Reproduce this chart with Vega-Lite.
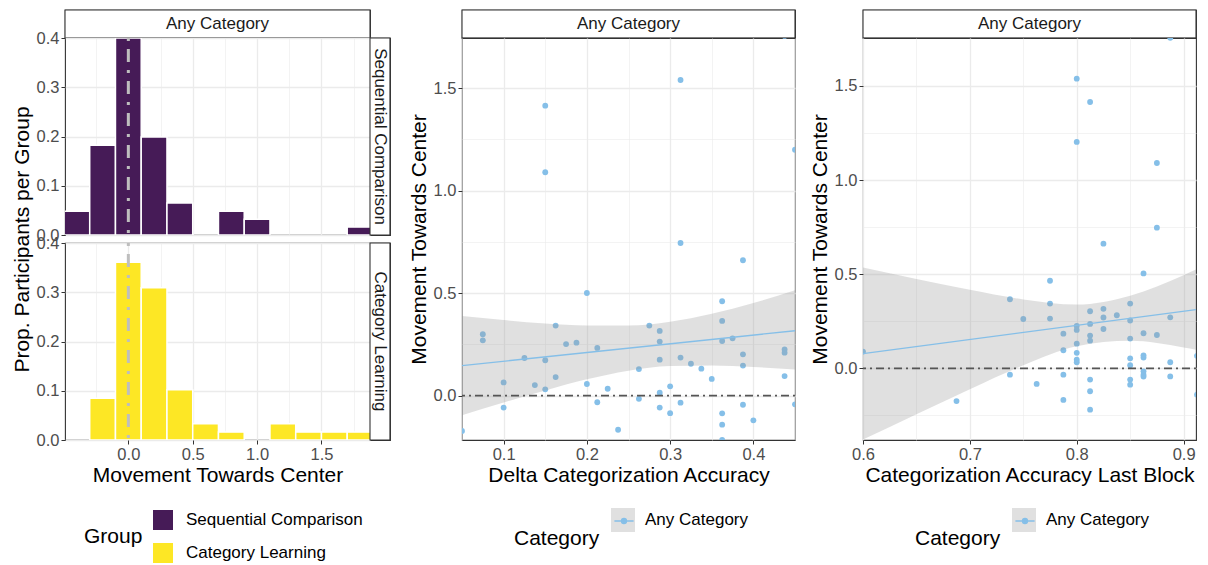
{
  "$schema": "https://vega.github.io/schema/vega-lite/v6.json",
  "padding": {"left": 10, "top": 8, "right": 5, "bottom": 5},
  "background": "white",
  "config": {
    "font": "Liberation Sans",
    "view": {"stroke": "#333333", "strokeWidth": 1.1, "fill": "white"},
    "axis": {
      "labelFont": "Liberation Sans", "labelFontSize": 16.5, "labelColor": "#4D4D4D",
      "titleFont": "Liberation Sans", "titleFontSize": 21, "titleColor": "#000000", "titleFontWeight": "normal",
      "domain": false, "tickColor": "#333333", "tickSize": 4, "tickWidth": 1,
      "labelPadding": 2, "titlePadding": 4, "labelFlush": false, "labelOverlap": false, "labelBound": false,
      "gridColor": "#EBEBEB"
    },
    "axisX": {"titlePadding": 2},
    "legend": {
      "labelFont": "Liberation Sans", "labelFontSize": 17, "labelColor": "#000000", "labelLimit": 0,
      "titleFont": "Liberation Sans", "titleFontSize": 21, "titleColor": "#000000", "titleFontWeight": "normal"
    }
  },
  "datasets": {
    "hist": [
      {"group": "Sequential Comparison", "x0": -0.5, "x1": -0.3, "prop": 0.048},
      {"group": "Sequential Comparison", "x0": -0.3, "x1": -0.1, "prop": 0.182},
      {"group": "Sequential Comparison", "x0": -0.1, "x1": 0.1, "prop": 0.4},
      {"group": "Sequential Comparison", "x0": 0.1, "x1": 0.3, "prop": 0.199},
      {"group": "Sequential Comparison", "x0": 0.3, "x1": 0.5, "prop": 0.065},
      {"group": "Sequential Comparison", "x0": 0.7, "x1": 0.9, "prop": 0.048},
      {"group": "Sequential Comparison", "x0": 0.9, "x1": 1.1, "prop": 0.032},
      {"group": "Sequential Comparison", "x0": 1.7, "x1": 1.9, "prop": 0.016},
      {"group": "Category Learning", "x0": -0.3, "x1": -0.1, "prop": 0.085},
      {"group": "Category Learning", "x0": -0.1, "x1": 0.1, "prop": 0.361},
      {"group": "Category Learning", "x0": 0.1, "x1": 0.3, "prop": 0.309},
      {"group": "Category Learning", "x0": 0.3, "x1": 0.5, "prop": 0.102},
      {"group": "Category Learning", "x0": 0.5, "x1": 0.7, "prop": 0.033},
      {"group": "Category Learning", "x0": 0.7, "x1": 0.9, "prop": 0.016},
      {"group": "Category Learning", "x0": 1.1, "x1": 1.3, "prop": 0.033},
      {"group": "Category Learning", "x0": 1.3, "x1": 1.5, "prop": 0.016},
      {"group": "Category Learning", "x0": 1.5, "x1": 1.7, "prop": 0.016},
      {"group": "Category Learning", "x0": 1.7, "x1": 1.9, "prop": 0.016}
    ],
    "mid": [
      {"x": 0.15, "y": 1.415}, {"x": 0.15, "y": 1.09}, {"x": 0.3125, "y": 1.54}, {"x": 0.4375, "y": 1.755},
      {"x": 0.45, "y": 1.2}, {"x": 0.3125, "y": 0.745}, {"x": 0.3875, "y": 0.661}, {"x": 0.2, "y": 0.501},
      {"x": 0.3625, "y": 0.461}, {"x": 0.3625, "y": 0.365}, {"x": 0.3625, "y": 0.267}, {"x": 0.375, "y": 0.28},
      {"x": 0.075, "y": 0.3}, {"x": 0.075, "y": 0.27}, {"x": 0.1625, "y": 0.342}, {"x": 0.175, "y": 0.252},
      {"x": 0.1875, "y": 0.259}, {"x": 0.2125, "y": 0.233}, {"x": 0.275, "y": 0.342}, {"x": 0.2875, "y": 0.316},
      {"x": 0.2875, "y": 0.264}, {"x": 0.2875, "y": 0.176}, {"x": 0.125, "y": 0.184}, {"x": 0.15, "y": 0.173},
      {"x": 0.1625, "y": 0.091}, {"x": 0.1, "y": 0.065}, {"x": 0.1375, "y": 0.052}, {"x": 0.15, "y": 0.031},
      {"x": 0.2, "y": 0.057}, {"x": 0.225, "y": 0.034}, {"x": 0.3125, "y": 0.186}, {"x": 0.325, "y": 0.156},
      {"x": 0.3375, "y": 0.132}, {"x": 0.35, "y": 0.082}, {"x": 0.2625, "y": 0.13}, {"x": 0.3, "y": 0.046},
      {"x": 0.2875, "y": 0.015}, {"x": 0.3875, "y": 0.202}, {"x": 0.3875, "y": 0.147}, {"x": 0.4375, "y": 0.226},
      {"x": 0.4375, "y": 0.21}, {"x": 0.4375, "y": 0.096}, {"x": 0.1, "y": -0.058}, {"x": 0.2125, "y": -0.032},
      {"x": 0.2625, "y": -0.015}, {"x": 0.2875, "y": -0.058}, {"x": 0.3, "y": -0.085}, {"x": 0.3125, "y": -0.034},
      {"x": 0.3875, "y": -0.044}, {"x": 0.4, "y": -0.12}, {"x": 0.3625, "y": -0.086}, {"x": 0.3625, "y": -0.141},
      {"x": 0.3625, "y": -0.216}, {"x": 0.2375, "y": -0.166}, {"x": 0.05, "y": -0.172}, {"x": 0.45, "y": -0.042}
    ],
    "right": [
      {"x": 0.8, "y": 1.539}, {"x": 0.8125, "y": 1.415}, {"x": 0.8, "y": 1.203}, {"x": 0.875, "y": 1.091},
      {"x": 0.8875, "y": 1.756}, {"x": 0.875, "y": 0.747}, {"x": 0.825, "y": 0.662}, {"x": 0.8625, "y": 0.504},
      {"x": 0.775, "y": 0.465}, {"x": 0.7375, "y": 0.367}, {"x": 0.775, "y": 0.344}, {"x": 0.775, "y": 0.264},
      {"x": 0.75, "y": 0.262}, {"x": 0.85, "y": 0.344}, {"x": 0.85, "y": 0.254}, {"x": 0.85, "y": 0.158},
      {"x": 0.8125, "y": 0.303}, {"x": 0.8125, "y": 0.236}, {"x": 0.8125, "y": 0.174}, {"x": 0.8125, "y": 0.147},
      {"x": 0.825, "y": 0.316}, {"x": 0.825, "y": 0.27}, {"x": 0.825, "y": 0.209}, {"x": 0.8375, "y": 0.282},
      {"x": 0.8875, "y": 0.271}, {"x": 0.8, "y": 0.225}, {"x": 0.8, "y": 0.204}, {"x": 0.8, "y": 0.131},
      {"x": 0.8, "y": 0.082}, {"x": 0.8, "y": 0.046}, {"x": 0.8, "y": 0.032}, {"x": 0.7875, "y": 0.184},
      {"x": 0.7875, "y": 0.096}, {"x": 0.7875, "y": -0.034}, {"x": 0.7875, "y": -0.168}, {"x": 0.8625, "y": 0.186},
      {"x": 0.875, "y": 0.177}, {"x": 0.8625, "y": 0.069}, {"x": 0.8625, "y": 0.057}, {"x": 0.85, "y": 0.053},
      {"x": 0.85, "y": 0.016}, {"x": 0.8875, "y": 0.032}, {"x": 0.9125, "y": 0.066}, {"x": 0.6, "y": 0.089},
      {"x": 0.7375, "y": -0.034}, {"x": 0.7625, "y": -0.083}, {"x": 0.6875, "y": -0.174}, {"x": 0.8125, "y": -0.06},
      {"x": 0.8125, "y": -0.122}, {"x": 0.8125, "y": -0.22}, {"x": 0.85, "y": -0.06}, {"x": 0.85, "y": -0.087},
      {"x": 0.8625, "y": -0.016}, {"x": 0.8625, "y": -0.034}, {"x": 0.8625, "y": -0.044}, {"x": 0.8875, "y": -0.043},
      {"x": 0.9125, "y": -0.14}
    ],
    "mid_band": [
      {"x": 0.05, "hi": 0.389, "lo": -0.095, "Category": "Any Category"},
      {"x": 0.1, "hi": 0.369, "lo": -0.033, "Category": "Any Category"},
      {"x": 0.15, "hi": 0.352, "lo": 0.026, "Category": "Any Category"},
      {"x": 0.2, "hi": 0.342, "lo": 0.08, "Category": "Any Category"},
      {"x": 0.25, "hi": 0.342, "lo": 0.122, "Category": "Any Category"},
      {"x": 0.3, "hi": 0.361, "lo": 0.145, "Category": "Any Category"},
      {"x": 0.35, "hi": 0.4, "lo": 0.148, "Category": "Any Category"},
      {"x": 0.4, "hi": 0.452, "lo": 0.14, "Category": "Any Category"},
      {"x": 0.45, "hi": 0.515, "lo": 0.128, "Category": "Any Category"}
    ],
    "mid_fit": [
      {"x": 0.05, "y": 0.147, "Category": "Any Category"},
      {"x": 0.45, "y": 0.317, "Category": "Any Category"}
    ],
    "right_band": [
      {"x": 0.6, "hi": 0.535, "lo": -0.379, "Category": "Any Category"},
      {"x": 0.65, "hi": 0.475, "lo": -0.244, "Category": "Any Category"},
      {"x": 0.7, "hi": 0.417, "lo": -0.111, "Category": "Any Category"},
      {"x": 0.75, "hi": 0.366, "lo": 0.016, "Category": "Any Category"},
      {"x": 0.8, "hi": 0.339, "lo": 0.117, "Category": "Any Category"},
      {"x": 0.85, "hi": 0.386, "lo": 0.146, "Category": "Any Category"},
      {"x": 0.9, "hi": 0.495, "lo": 0.111, "Category": "Any Category"},
      {"x": 0.9116, "hi": 0.525, "lo": 0.099, "Category": "Any Category"}
    ],
    "right_fit": [
      {"x": 0.6, "y": 0.078, "Category": "Any Category"},
      {"x": 0.9116, "y": 0.312, "Category": "Any Category"}
    ]
  },
  "hconcat": [
    {
      "vconcat": [
        {
          "width": 305, "height": 28,
          "data": {"values": [{"label": "Any Category"}]},
          "layer": [
            {
              "mark": {"type": "rect", "fill": "white", "stroke": "#333333", "strokeWidth": 1.1},
              "encoding": {
                "x": {"datum": 0, "type": "quantitative", "scale": {"domain": [0, 1], "nice": false}, "axis": null},
                "x2": {"datum": 1},
                "y": {"datum": 0, "type": "quantitative", "scale": {"domain": [0, 1], "nice": false}, "axis": null},
                "y2": {"datum": 1}
              }
            },
            {
              "mark": {"type": "text", "fontSize": 17, "color": "#1A1A1A"},
              "encoding": {"text": {"field": "label"}}
            }
          ]
        },
        {
          "width": 325, "height": 197,
          "layer": [
            {
              "data": {"name": "hist"},
              "transform": [{"filter": "datum.group == 'Sequential Comparison'"}],
              "mark": {"type": "rect", "stroke": "white", "strokeWidth": 1.5, "clip": true},
              "encoding": {
                "x": {"field": "x0", "type": "quantitative", "title": null,
                  "scale": {"domain": [-0.492, 1.877], "range": [0, 305], "nice": false, "zero": false},
                  "axis": {"values": [-0.25, 0, 0.25, 0.5, 0.75, 1, 1.25, 1.5, 1.75], "labels": false, "ticks": false, "title": null,
                    "gridWidth": {"condition": {"test": "abs(datum.value*2-round(datum.value*2))<0.000001", "value": 1.3}, "value": 0.6}}},
                "x2": {"field": "x1"},
                "y": {"field": "prop", "type": "quantitative", "title": "Prop. Participants per Group",
                  "scale": {"domain": [0, 0.4], "nice": false, "zero": false},
                  "axis": {"values": [0, 0.05, 0.1, 0.15, 0.2, 0.25, 0.3, 0.35, 0.4], "title": "Prop. Participants per Group", "titleY": 201,
                    "labelExpr": "abs(datum.value*10-round(datum.value*10))<0.000001 ? format(datum.value,'.1f') : ''",
                    "gridWidth": {"condition": {"test": "abs(datum.value*10-round(datum.value*10))<0.000001", "value": 1.3}, "value": 0.6},
                    "tickOpacity": {"condition": {"test": "abs(datum.value*10-round(datum.value*10))<0.000001", "value": 1}, "value": 0}}},
                "y2": {"datum": 0},
                "color": {"field": "group", "type": "nominal",
                  "scale": {"domain": ["Sequential Comparison", "Category Learning"], "range": ["#461B57", "#FDE725"]},
                  "legend": {"title": "Group", "orient": "none", "legendX": 19, "legendY": 500, "direction": "vertical",
                    "titleOrient": "left", "titleAnchor": "middle", "titleBaseline": "middle", "titlePadding": 10,
                    "symbolType": "square", "symbolSize": 400, "symbolStrokeWidth": 0, "rowPadding": 13, "labelOffset": 13}}
              }
            },
            {
              "data": {"values": [{"x": 0}]},
              "mark": {"type": "rule", "color": "#BEBEBE", "strokeWidth": 3, "strokeDash": [3, 8, 13, 8]},
              "encoding": {"x": {"field": "x", "type": "quantitative", "title": null}}
            },
            {
              "data": {"values": [{"label": "Sequential Comparison"}]},
              "mark": {"type": "rect", "fill": "white", "stroke": "#333333", "strokeWidth": 1.1},
              "encoding": {"x": {"datum": 1.877, "type": "quantitative"}, "x2": {"datum": 2.032}, "y": {"datum": 0, "type": "quantitative"}, "y2": {"datum": 0.4}}
            },
            {
              "data": {"values": [{"label": "Sequential Comparison"}]},
              "mark": {"type": "text", "fontSize": 17, "angle": 90, "color": "#1A1A1A"},
              "encoding": {"x": {"datum": 1.9545, "type": "quantitative"}, "y": {"datum": 0.2, "type": "quantitative"}, "text": {"field": "label"}}
            }
          ]
        },
        {
          "width": 325, "height": 8,
          "view": {"stroke": null, "fill": null},
          "data": {"values": []},
          "mark": "text",
          "encoding": {}
        },
        {
          "width": 325, "height": 197,
          "layer": [
            {
              "data": {"name": "hist"},
              "transform": [{"filter": "datum.group == 'Category Learning'"}],
              "mark": {"type": "rect", "stroke": "white", "strokeWidth": 1.5, "clip": true},
              "encoding": {
                "x": {"field": "x0", "type": "quantitative", "title": "Movement Towards Center",
                  "scale": {"domain": [-0.492, 1.877], "range": [0, 305], "nice": false, "zero": false},
                  "axis": {"values": [-0.25, 0, 0.25, 0.5, 0.75, 1, 1.25, 1.5, 1.75], "title": "Movement Towards Center",
                    "labelExpr": "abs(datum.value*2-round(datum.value*2))<0.000001 ? format(datum.value,'.1f') : ''",
                    "gridWidth": {"condition": {"test": "abs(datum.value*2-round(datum.value*2))<0.000001", "value": 1.3}, "value": 0.6},
                    "tickOpacity": {"condition": {"test": "abs(datum.value*2-round(datum.value*2))<0.000001", "value": 1}, "value": 0}}},
                "x2": {"field": "x1"},
                "y": {"field": "prop", "type": "quantitative", "title": null,
                  "scale": {"domain": [0, 0.4], "nice": false, "zero": false},
                  "axis": {"values": [0, 0.05, 0.1, 0.15, 0.2, 0.25, 0.3, 0.35, 0.4], "title": null,
                    "labelExpr": "abs(datum.value*10-round(datum.value*10))<0.000001 ? format(datum.value,'.1f') : ''",
                    "gridWidth": {"condition": {"test": "abs(datum.value*10-round(datum.value*10))<0.000001", "value": 1.3}, "value": 0.6},
                    "tickOpacity": {"condition": {"test": "abs(datum.value*10-round(datum.value*10))<0.000001", "value": 1}, "value": 0}}},
                "y2": {"datum": 0},
                "color": {"field": "group", "type": "nominal",
                  "scale": {"domain": ["Sequential Comparison", "Category Learning"], "range": ["#461B57", "#FDE725"]},
                  "legend": {"title": "Group", "orient": "none", "legendX": 19, "legendY": 500, "direction": "vertical",
                    "titleOrient": "left", "titleAnchor": "middle", "titleBaseline": "middle", "titlePadding": 10,
                    "symbolType": "square", "symbolSize": 400, "symbolStrokeWidth": 0, "rowPadding": 13, "labelOffset": 13}}
              }
            },
            {
              "data": {"values": [{"x": 0}]},
              "mark": {"type": "rule", "color": "#BEBEBE", "strokeWidth": 3, "strokeDash": [3, 8, 13, 8]},
              "encoding": {"x": {"field": "x", "type": "quantitative", "title": "Movement Towards Center"}}
            },
            {
              "data": {"values": [{"label": "Category Learning"}]},
              "mark": {"type": "rect", "fill": "white", "stroke": "#333333", "strokeWidth": 1.1},
              "encoding": {"x": {"datum": 1.877, "type": "quantitative"}, "x2": {"datum": 2.032}, "y": {"datum": 0, "type": "quantitative"}, "y2": {"datum": 0.4}}
            },
            {
              "data": {"values": [{"label": "Category Learning"}]},
              "mark": {"type": "text", "fontSize": 17, "angle": 90, "color": "#1A1A1A"},
              "encoding": {"x": {"datum": 1.9545, "type": "quantitative"}, "y": {"datum": 0.2, "type": "quantitative"}, "text": {"field": "label"}}
            }
          ]
        }
      ],
      "spacing": 0, "bounds": "flush"
    },
    {
      "hconcat": [
        {
          "vconcat": [
            {
              "width": 333, "height": 28,
              "data": {"values": [{"label": "Any Category"}]},
              "layer": [
                {
                  "mark": {"type": "rect", "fill": "white", "stroke": "#333333", "strokeWidth": 1.1},
                  "encoding": {
                    "x": {"datum": 0, "type": "quantitative", "scale": {"domain": [0, 1], "nice": false}, "axis": null},
                    "x2": {"datum": 1},
                    "y": {"datum": 0, "type": "quantitative", "scale": {"domain": [0, 1], "nice": false}, "axis": null},
                    "y2": {"datum": 1}
                  }
                },
                {
                  "mark": {"type": "text", "fontSize": 17, "color": "#1A1A1A"},
                  "encoding": {"text": {"field": "label"}}
                }
              ]
            },
            {
              "width": 333, "height": 402,
              "layer": [
                {
                  "data": {"name": "mid"},
                  "mark": {"type": "circle", "size": 34, "color": "#85BFE8", "opacity": 1, "clip": true},
                  "encoding": {
                    "x": {"field": "x", "type": "quantitative", "title": "Delta Categorization Accuracy",
                      "scale": {"domain": [0.05, 0.45], "nice": false, "zero": false},
                      "axis": {"values": [0.05, 0.1, 0.15, 0.2, 0.25, 0.3, 0.35, 0.4, 0.45], "title": "Delta Categorization Accuracy",
                        "labelExpr": "abs(datum.value*10-round(datum.value*10))<0.000001 ? format(datum.value,'.1f') : ''",
                        "gridWidth": {"condition": {"test": "abs(datum.value*10-round(datum.value*10))<0.000001", "value": 1.3}, "value": 0.6},
                        "tickOpacity": {"condition": {"test": "abs(datum.value*10-round(datum.value*10))<0.000001", "value": 1}, "value": 0}}},
                    "y": {"field": "y", "type": "quantitative", "title": "Movement Towards Center",
                      "scale": {"domain": [-0.216, 1.745], "nice": false, "zero": false},
                      "axis": {"values": [0, 0.25, 0.5, 0.75, 1, 1.25, 1.5], "title": "Movement Towards Center",
                        "labelExpr": "abs(datum.value*2-round(datum.value*2))<0.000001 ? format(datum.value,'.1f') : ''",
                        "gridWidth": {"condition": {"test": "abs(datum.value*2-round(datum.value*2))<0.000001", "value": 1.3}, "value": 0.6},
                        "tickOpacity": {"condition": {"test": "abs(datum.value*2-round(datum.value*2))<0.000001", "value": 1}, "value": 0}}}
                  }
                },
                {
                  "data": {"name": "mid_band"},
                  "mark": {"type": "area", "opacity": 0.3, "interpolate": "monotone", "clip": true},
                  "encoding": {
                    "x": {"field": "x", "type": "quantitative", "title": "Delta Categorization Accuracy"},
                    "y": {"field": "hi", "type": "quantitative", "title": "Movement Towards Center"},
                    "y2": {"field": "lo"},
                    "fill": {"field": "Category", "type": "nominal", "scale": {"range": ["#999999"]},
                      "legend": {"title": "Category", "orient": "none", "legendX": 52, "legendY": 498, "direction": "vertical",
                        "titleOrient": "left", "titleAnchor": "end", "titleBaseline": "line-top", "titleLineHeight": 13, "titlePadding": 11,
                        "symbolType": "square", "symbolSize": 576, "symbolStrokeWidth": 0, "labelOffset": 10}}
                  }
                },
                {
                  "data": {"name": "mid_fit"},
                  "mark": {"type": "line", "strokeWidth": 1.3, "clip": true},
                  "encoding": {
                    "x": {"field": "x", "type": "quantitative", "title": "Delta Categorization Accuracy"},
                    "y": {"field": "y", "type": "quantitative", "title": "Movement Towards Center"},
                    "stroke": {"field": "Category", "type": "nominal", "scale": {"range": ["#85BFE8"]},
                      "legend": {"title": "Category", "orient": "none", "legendX": 52, "legendY": 498, "direction": "vertical",
                        "titleOrient": "left", "titleAnchor": "end", "titleBaseline": "line-top", "titleLineHeight": 13, "titlePadding": 11,
                        "titleOpacity": 0, "labelOpacity": 0,
                        "symbolType": "M-0.8,0H0.8M0.21,0A0.21,0.21,0,1,1,-0.21,0A0.21,0.21,0,1,1,0.21,0Z",
                        "symbolSize": 576, "symbolStrokeWidth": 1.3, "symbolFillColor": "#85BFE8", "labelOffset": 10}}
                  }
                },
                {
                  "data": {"values": [{"y": 0}]},
                  "mark": {"type": "rule", "color": "#555555", "strokeWidth": 1.8, "strokeDash": [2, 4, 8, 4]},
                  "encoding": {"y": {"field": "y", "type": "quantitative", "title": "Movement Towards Center"}}
                }
              ]
            }
          ],
          "spacing": 0, "bounds": "flush"
        },
        {
          "vconcat": [
            {
              "width": 333, "height": 28,
              "data": {"values": [{"label": "Any Category"}]},
              "layer": [
                {
                  "mark": {"type": "rect", "fill": "white", "stroke": "#333333", "strokeWidth": 1.1},
                  "encoding": {
                    "x": {"datum": 0, "type": "quantitative", "scale": {"domain": [0, 1], "nice": false}, "axis": null},
                    "x2": {"datum": 1},
                    "y": {"datum": 0, "type": "quantitative", "scale": {"domain": [0, 1], "nice": false}, "axis": null},
                    "y2": {"datum": 1}
                  }
                },
                {
                  "mark": {"type": "text", "fontSize": 17, "color": "#1A1A1A"},
                  "encoding": {"text": {"field": "label"}}
                }
              ]
            },
            {
              "width": 333, "height": 402,
              "layer": [
                {
                  "data": {"name": "right"},
                  "mark": {"type": "circle", "size": 34, "color": "#85BFE8", "opacity": 1, "clip": true},
                  "encoding": {
                    "x": {"field": "x", "type": "quantitative", "title": "Categorization Accuracy Last Block",
                      "scale": {"domain": [0.6, 0.9116], "nice": false, "zero": false},
                      "axis": {"values": [0.6, 0.65, 0.7, 0.75, 0.8, 0.85, 0.9], "title": "Categorization Accuracy Last Block",
                        "labelExpr": "abs(datum.value*10-round(datum.value*10))<0.000001 ? format(datum.value,'.1f') : ''",
                        "gridWidth": {"condition": {"test": "abs(datum.value*10-round(datum.value*10))<0.000001", "value": 1.3}, "value": 0.6},
                        "tickOpacity": {"condition": {"test": "abs(datum.value*10-round(datum.value*10))<0.000001", "value": 1}, "value": 0}}},
                    "y": {"field": "y", "type": "quantitative", "title": "Movement Towards Center",
                      "scale": {"domain": [-0.381, 1.755], "nice": false, "zero": false},
                      "axis": {"values": [-0.25, 0, 0.25, 0.5, 0.75, 1, 1.25, 1.5], "title": "Movement Towards Center",
                        "labelExpr": "abs(datum.value*2-round(datum.value*2))<0.000001 ? format(datum.value,'.1f') : ''",
                        "gridWidth": {"condition": {"test": "abs(datum.value*2-round(datum.value*2))<0.000001", "value": 1.3}, "value": 0.6},
                        "tickOpacity": {"condition": {"test": "abs(datum.value*2-round(datum.value*2))<0.000001", "value": 1}, "value": 0}}}
                  }
                },
                {
                  "data": {"name": "right_band"},
                  "mark": {"type": "area", "opacity": 0.3, "interpolate": "monotone", "clip": true},
                  "encoding": {
                    "x": {"field": "x", "type": "quantitative", "title": "Categorization Accuracy Last Block"},
                    "y": {"field": "hi", "type": "quantitative", "title": "Movement Towards Center"},
                    "y2": {"field": "lo"},
                    "fill": {"field": "Category", "type": "nominal", "scale": {"range": ["#999999"]},
                      "legend": {"title": "Category", "orient": "none", "legendX": 52, "legendY": 498, "direction": "vertical",
                        "titleOrient": "left", "titleAnchor": "end", "titleBaseline": "line-top", "titleLineHeight": 13, "titlePadding": 11,
                        "symbolType": "square", "symbolSize": 576, "symbolStrokeWidth": 0, "labelOffset": 10}}
                  }
                },
                {
                  "data": {"name": "right_fit"},
                  "mark": {"type": "line", "strokeWidth": 1.3, "clip": true},
                  "encoding": {
                    "x": {"field": "x", "type": "quantitative", "title": "Categorization Accuracy Last Block"},
                    "y": {"field": "y", "type": "quantitative", "title": "Movement Towards Center"},
                    "stroke": {"field": "Category", "type": "nominal", "scale": {"range": ["#85BFE8"]},
                      "legend": {"title": "Category", "orient": "none", "legendX": 52, "legendY": 498, "direction": "vertical",
                        "titleOrient": "left", "titleAnchor": "end", "titleBaseline": "line-top", "titleLineHeight": 13, "titlePadding": 11,
                        "titleOpacity": 0, "labelOpacity": 0,
                        "symbolType": "M-0.8,0H0.8M0.21,0A0.21,0.21,0,1,1,-0.21,0A0.21,0.21,0,1,1,0.21,0Z",
                        "symbolSize": 576, "symbolStrokeWidth": 1.3, "symbolFillColor": "#85BFE8", "labelOffset": 10}}
                  }
                },
                {
                  "data": {"values": [{"y": 0}]},
                  "mark": {"type": "rule", "color": "#555555", "strokeWidth": 1.8, "strokeDash": [2, 4, 8, 4]},
                  "encoding": {"y": {"field": "y", "type": "quantitative", "title": "Movement Towards Center"}}
                }
              ]
            }
          ],
          "spacing": 0, "bounds": "flush"
        }
      ],
      "spacing": 11,
      "resolve": {"scale": {"x": "independent", "y": "independent", "color": "independent", "fill": "independent", "stroke": "independent"},
                  "legend": {"color": "independent", "fill": "independent", "stroke": "independent"}}
    }
  ],
  "spacing": 15,
  "resolve": {"scale": {"x": "independent", "y": "independent", "color": "independent", "fill": "independent", "stroke": "independent"},
              "legend": {"color": "independent", "fill": "independent", "stroke": "independent"}}
}
